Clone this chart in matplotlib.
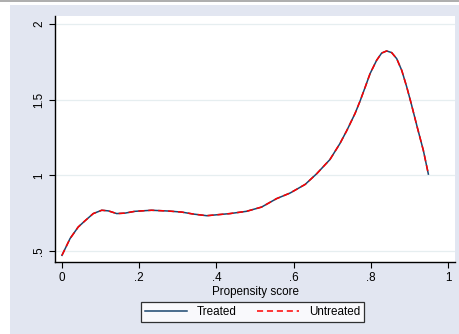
import matplotlib
matplotlib.use("Agg")
import matplotlib.pyplot as plt
from matplotlib.patches import Rectangle
from matplotlib.lines import Line2D

plt.rcParams['font.family'] = ['Liberation Sans', 'DejaVu Sans']

# density curve (both groups lie on top of each other)
pscore = [0.0, 0.021, 0.042, 0.06, 0.081, 0.103, 0.12, 0.142, 0.163, 0.189, 0.232,
          0.275, 0.31, 0.34, 0.375, 0.435, 0.478, 0.517, 0.556, 0.591, 0.63, 0.66,
          0.694, 0.72, 0.738, 0.759, 0.772, 0.785, 0.798, 0.815, 0.828, 0.841, 0.854,
          0.867, 0.88, 0.893, 0.904, 0.92, 0.936, 0.949]
dens_treated = [0.471, 0.582, 0.658, 0.7, 0.747, 0.769, 0.765, 0.747, 0.75, 0.762, 0.769,
                0.764, 0.757, 0.744, 0.733, 0.747, 0.762, 0.79, 0.846, 0.883, 0.94, 1.011,
                1.104, 1.21, 1.297, 1.408, 1.49, 1.58, 1.672, 1.76, 1.808, 1.822, 1.811,
                1.771, 1.694, 1.584, 1.48, 1.32, 1.165, 1.008]
dens_untreated = list(dens_treated)

xticks = [0, 0.2, 0.4, 0.6, 0.8, 1.0]
xtick_labels = ['0', '.2', '.4', '.6', '.8', '1']
yticks = [0.5, 1.0, 1.5, 2.0]
ytick_labels = ['.5', '1', '1.5', '2']

W, H = 459, 334
fig = plt.figure(figsize=(W / 100, H / 100), dpi=100)
fig.patch.set_facecolor('white')
bg = '#E2E6F1'
fig.add_artist(Rectangle((10 / W, 0), 1 - 10 / W, 1 - 5 / H, transform=fig.transFigure,
                         facecolor=bg, edgecolor='none', zorder=0))
fig.add_artist(Line2D([0, 1], [1 - 0.8 / H, 1 - 0.8 / H], transform=fig.transFigure,
                      color='#A0A0A0', lw=1.2))

ax = fig.add_axes([55 / W, 1 - 262 / H, 400 / W, 246 / H])
ax.set_facecolor('white')
ax.plot(pscore, dens_treated, color='#1a476f', lw=1.1, label='Treated')
ax.plot(pscore, dens_untreated, color='#ff0000', lw=1.1, ls=(0, (4, 2.5)), label='Untreated')

ax.set_xlim(-0.018, 1.018)
ax.set_ylim(0.427, 2.053)
ax.set_xticks(xticks)
ax.set_xticklabels(xtick_labels)
ax.set_yticks(yticks)
ax.set_yticklabels(ytick_labels, rotation=90, va='center')
ax.tick_params(labelsize=8.4, length=4, width=0.8, pad=3)
ax.grid(axis='y', color='#E6EEF0', lw=0.9)
ax.set_axisbelow(True)
for s in ['top', 'right']:
    ax.spines[s].set_visible(False)
for s in ['left', 'bottom']:
    ax.spines[s].set_linewidth(1.0)
ax.set_xlabel('Propensity score', fontsize=8.4, labelpad=2)

leg = fig.legend(loc='center', bbox_to_anchor=(252.5 / W, 1 - 312 / H), ncol=2,
                 fontsize=8.4, frameon=True, fancybox=False, edgecolor='black',
                 handlelength=3.6, columnspacing=1.8, borderpad=0.35, handletextpad=0.8)
leg.get_frame().set_linewidth(0.9)

fig.savefig('out.png', dpi=100, facecolor=fig.get_facecolor())
